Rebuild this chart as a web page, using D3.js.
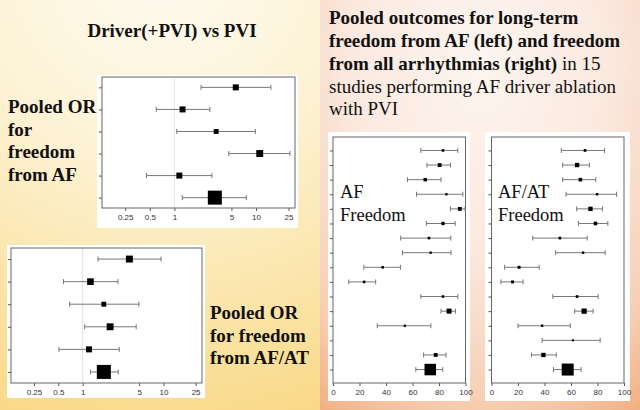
<!DOCTYPE html>
<html><head><meta charset="utf-8">
<script src="https://cdn.jsdelivr.net/npm/d3@7"></script>
<style>body{margin:0;background:#fff}svg{display:block}</style>
</head><body>
<div id="chart"></div>
<script>
// ---- Data ----
// Pooled OR for freedom from AF (Driver(+PVI) vs PVI), 6 rows (last = pooled)
const orAF_est = [5.65, 1.26, 3.25, 11.1, 1.15, 3.13];
const orAF_lo  = [2.12, 0.60, 1.07, 4.64, 0.456, 1.25];
const orAF_hi  = [15.2, 2.72, 9.8, 26.0, 2.88, 7.6];
const orAF_wt  = [9, 9, 6, 12, 9, 49];
// Pooled OR for freedom from AF/AT
const orAT_est = [3.79, 1.25, 1.83, 2.19, 1.20, 1.83];
const orAT_lo  = [1.55, 0.58, 0.69, 1.06, 0.51, 1.25];
const orAT_hi  = [9.35, 2.74, 4.97, 4.6, 2.84, 2.76];
const orAT_wt  = [12, 11, 6, 12, 9, 49];
const orTicks  = [0.25, 0.5, 1, 5, 10, 25];
// AF freedom (%), 15 studies + pooled
const af_est = [83, 80.5, 69.6, 85.6, 95.7, 83, 72.4, 73.7, 37.5, 23.5, 83, 87.6, 54.2, null, 77.5, 73.4];
const af_lo  = [66.3, 70.9, 56.2, 63, 88.6, 70.4, 51.1, 52.4, 23.3, 11.9, 66.3, 81.5, 33.4, null, 68.4, 62.5];
const af_hi  = [94.2, 88.6, 81.5, 98, 99.7, 92.2, 88.9, 89.1, 50.9, 32.2, 94.2, 92.4, 73.9, null, 85.3, 82.8];
const af_wt  = [5, 11, 9, 4, 11, 8, 5, 4, 5, 5, 5, 19, 4, 0, 11, 100];
// AF/AT freedom (%)
const at_est = [70.6, 64.6, 67.1, 79.7, 74.7, 78.5, 51.6, 69.1, 20.8, 15.9, 64.6, 69.9, 38.2, 61.5, 39.2, 57.5];
const at_lo  = [52.7, 53.7, 53.7, 56.2, 64.3, 65.6, 31.1, 48.4, 9.9, 7.1, 46.3, 62.8, 20.0, 38.2, 30.1, 46.8];
const at_hi  = [85.3, 73.9, 78.7, 94.4, 83.8, 87.8, 72.2, 85.8, 36.0, 23.8, 80.5, 76.7, 59.5, 82.0, 48.9, 67.6];
const at_wt  = [5, 13, 9, 4, 13, 9, 5, 4, 6, 6, 5, 19, 4, 3, 13, 100];
const pctTicks = [0, 20, 40, 60, 80, 100];

const W = 640, H = 410;
const svg = d3.select("#chart").append("svg").attr("width", W).attr("height", H);
const defs = svg.append("defs");

// Backgrounds
const gL = defs.append("radialGradient").attr("id","bgL").attr("gradientUnits","userSpaceOnUse")
  .attr("cx",160).attr("cy",-40).attr("r",500);
[[0,"#fefbf2"],[0.4,"#fdf2d4"],[0.75,"#fbe3a4"],[1,"#f9d682"]].forEach(s=>gL.append("stop").attr("offset",s[0]).attr("stop-color",s[1]));
const gR = defs.append("radialGradient").attr("id","bgR").attr("gradientUnits","userSpaceOnUse")
  .attr("cx",480).attr("cy",60).attr("r",380).attr("gradientTransform","translate(480,60) scale(0.75,1.1) translate(-480,-60)");
[[0,"#fdf5f0"],[0.45,"#fbe9df"],[0.8,"#f7d0b6"],[1,"#f2b184"]].forEach(s=>gR.append("stop").attr("offset",s[0]).attr("stop-color",s[1]));
svg.append("rect").attr("x",0).attr("y",0).attr("width",320).attr("height",H).attr("fill","url(#bgL)");
svg.append("rect").attr("x",320).attr("y",0).attr("width",320).attr("height",H).attr("fill","url(#bgR)");

const serif = "'Liberation Serif','Times New Roman',serif";
const sans = "'Liberation Sans',Arial,sans-serif";

function forest(opts) {
  const {box, frame, xScale, ticks, est, lo, hi, wt, maxSize, ref, pad, tickFmt} = opts;
  svg.append("rect").attr("x",box[0]).attr("y",box[1]).attr("width",box[2]-box[0]).attr("height",box[3]-box[1]).attr("fill","#fff");
  const g = svg.append("g");
  const rows = d3.range(est.length);
  const y = d3.scalePoint().domain(rows).range([frame[1], frame[3]]).padding(pad);
  const sz = d3.scaleSqrt().domain([0, d3.max(wt)]).range([0, maxSize]);
  if (ref !== undefined) {
    g.append("line").attr("x1",xScale(ref)).attr("x2",xScale(ref)).attr("y1",frame[1]).attr("y2",frame[3])
      .attr("stroke","#e4e4e4").attr("stroke-width",1);
  }
  const xa = g.append("g").attr("transform",`translate(0,${frame[3]})`)
    .call(d3.axisBottom(xScale).tickValues(ticks).tickSize(3).tickPadding(3).tickFormat(tickFmt));
  xa.select(".domain").remove();
  xa.selectAll("line").attr("stroke","#555");
  xa.selectAll("text").attr("font-family",sans).attr("font-size","8px").attr("fill","#333");
  const ya = g.append("g").attr("transform",`translate(${frame[0]},0)`)
    .call(d3.axisLeft(y).tickSize(3).tickFormat(""));
  ya.select(".domain").remove();
  ya.selectAll("line").attr("stroke","#555");
  g.append("rect").attr("x",frame[0]).attr("y",frame[1]).attr("width",frame[2]-frame[0]).attr("height",frame[3]-frame[1])
    .attr("fill","none").attr("stroke","#666").attr("stroke-width",1);
  const rowsData = rows.filter(i => est[i] != null);
  const cap = 2.5;
  const eb = g.selectAll(".eb").data(rowsData).enter().append("g");
  eb.append("line").attr("x1",i=>xScale(lo[i])).attr("x2",i=>xScale(hi[i])).attr("y1",i=>y(i)).attr("y2",i=>y(i))
    .attr("stroke","#777").attr("stroke-width",1);
  eb.append("line").attr("x1",i=>xScale(lo[i])).attr("x2",i=>xScale(lo[i])).attr("y1",i=>y(i)-cap).attr("y2",i=>y(i)+cap)
    .attr("stroke","#777").attr("stroke-width",1);
  eb.append("line").attr("x1",i=>xScale(hi[i])).attr("x2",i=>xScale(hi[i])).attr("y1",i=>y(i)-cap).attr("y2",i=>y(i)+cap)
    .attr("stroke","#777").attr("stroke-width",1);
  eb.append("rect").attr("x",i=>xScale(est[i])-sz(wt[i])/2).attr("y",i=>y(i)-sz(wt[i])/2)
    .attr("width",i=>sz(wt[i])).attr("height",i=>sz(wt[i])).attr("fill","#000");
}

const orFmt = d => String(d);
forest({box:[97,75,298,228], frame:[102,77,295,208],
  xScale: d3.scaleLog().domain([0.13,30]).range([102,295]), ticks: orTicks,
  est: orAF_est, lo: orAF_lo, hi: orAF_hi, wt: orAF_wt, maxSize: 14, ref: 1, pad: 0.47, tickFmt: orFmt});
forest({box:[7,245,205,398], frame:[11,248,202,383],
  xScale: d3.scaleLog().domain([0.13,30]).range([11,202]), ticks: orTicks,
  est: orAT_est, lo: orAT_lo, hi: orAT_hi, wt: orAT_wt, maxSize: 14, ref: 1, pad: 0.49, tickFmt: orFmt});
forest({box:[328,132,470,401], frame:[333,137,465.5,383],
  xScale: d3.scaleLinear().domain([0,100]).range([333,465.5]), ticks: pctTicks,
  est: af_est, lo: af_lo, hi: af_hi, wt: af_wt, maxSize: 11.5, pad: 0.92, tickFmt: d3.format("d")});
forest({box:[485,132,630,401], frame:[491.5,137,624,383],
  xScale: d3.scaleLinear().domain([0,100]).range([491.5,624]), ticks: pctTicks,
  est: at_est, lo: at_lo, hi: at_hi, wt: at_wt, maxSize: 12, pad: 0.92, tickFmt: d3.format("d")});

function txt(x, y, s, size, weight, anchor) {
  return svg.append("text").attr("x",x).attr("y",y).attr("font-family",serif).attr("font-size",size+"px")
    .attr("font-weight",weight||"normal").attr("fill","#111").attr("text-anchor",anchor||"start").text(s);
}
txt(172, 37, "Driver(+PVI) vs PVI", 19, "bold", "middle");
["Pooled OR","for","freedom","from AF"].forEach((s,i)=>txt(8, 113 + i*22.5, s, 19, "bold"));
["Pooled OR","for freedom","from AF/AT"].forEach((s,i)=>txt(210, 319 + i*22.5, s, 19, "bold"));

txt(329, 24, "Pooled outcomes for long-term", 19, "bold");
txt(329, 47, "freedom from AF (left) and freedom", 19, "bold");
const l3 = txt(329, 70, "from all arrhythmias (right)", 19, "bold");
l3.append("tspan").attr("font-weight","normal").text(" in 15");
txt(329, 93, "studies performing AF driver ablation", 19, "normal");
txt(329, 115, "with PVI", 19, "normal");

txt(340, 198, "AF", 18.5, "normal");
txt(340, 221, "Freedom", 18.5, "normal");
txt(498, 198, "AF/AT", 18.5, "normal");
txt(498, 221, "Freedom", 18.5, "normal");
</script>
</body></html>
